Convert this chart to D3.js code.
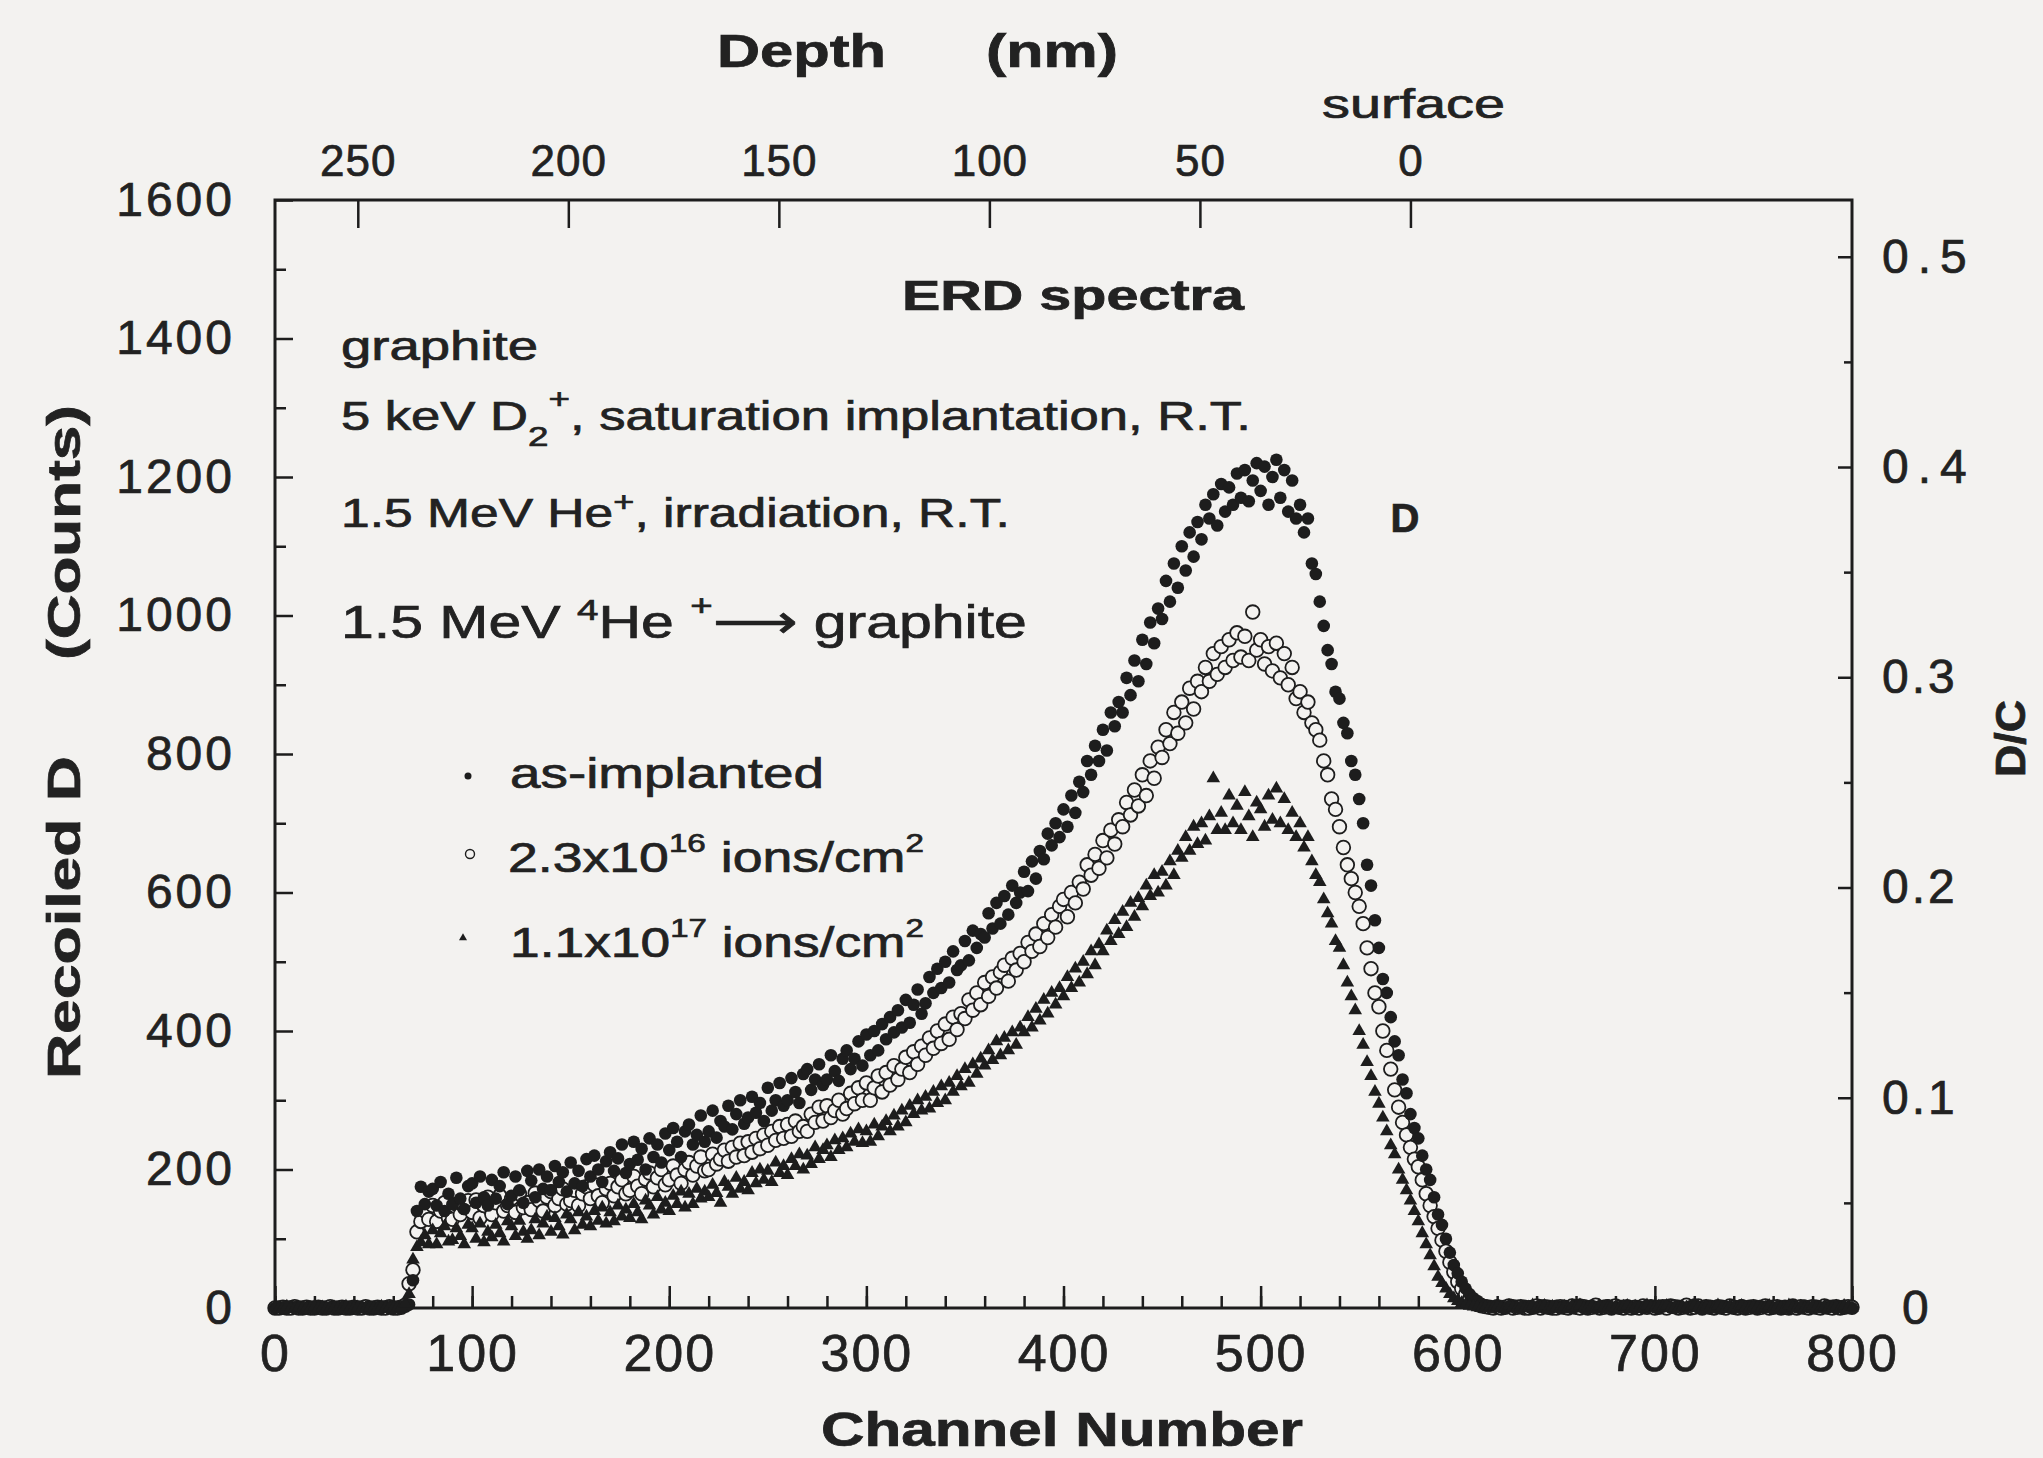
<!DOCTYPE html>
<html>
<head>
<meta charset="utf-8">
<script src="https://cdn.jsdelivr.net/npm/d3@7"></script>
<style>
  body { margin: 0; background: #f3f2f0; }
  svg text { font-family: "Liberation Sans", Arial, Helvetica, sans-serif; fill: #222; stroke: #222; stroke-width: 0.7px; }
</style>
</head>
<body>
<svg id="chart"></svg>
<script>
// counts, one value every 2 channels from channel 0 to 800
var channelStep = 2;

var asImplanted = [
  0,1,0,0,2,0,1,0,0,1,0,2,0,0,1,0,0,1,0,0,2,0,1,0,0,
  0,1,0,2,0,0,1,0,3,5,40,140,175,150,168,172,148,182,140,165,150,188,158,143,176,
  180,152,190,160,148,185,158,176,196,150,162,190,170,152,198,184,160,200,172,190,170,205,182,196,168,
  210,180,198,176,215,190,220,200,182,212,225,198,216,236,195,208,240,214,230,200,245,218,236,210,252,
  228,260,240,218,255,265,236,250,278,240,255,285,246,270,262,292,258,280,300,266,275,305,282,296,270,
  318,285,300,325,292,300,332,312,296,338,345,315,330,352,322,330,365,342,328,360,372,345,360,385,350,
  395,365,400,372,410,388,420,398,430,405,445,412,438,460,425,440,478,455,490,462,500,470,515,488,495,
  530,502,545,520,540,535,570,548,585,555,595,568,610,585,600,630,602,645,620,660,648,685,668,700,680,
  720,695,740,715,760,745,790,770,812,790,835,805,860,840,875,860,910,885,935,905,965,930,990,960,1010,
  995,1050,1020,1075,1040,1100,1065,1120,1085,1135,1110,1160,1140,1175,1130,1190,1150,1185,1160,1205,1170,1210,1165,1195,1220,
  1180,1215,1160,1200,1225,1170,1210,1150,1195,1140,1160,1120,1140,1075,1060,1020,985,950,930,890,880,845,830,790,770,
  735,700,640,610,560,520,475,455,420,385,365,330,310,280,260,245,220,200,185,160,135,120,100,80,62,
  50,38,28,20,14,10,6,4,2,1,3,1,0,2,4,1,0,3,2,0,1,4,2,0,1,
  3,0,2,1,0,2,5,1,0,3,0,2,1,4,0,1,0,3,2,1,0,2,0,1,3,
  1,0,2,4,1,0,3,1,0,2,5,1,0,2,0,1,3,0,2,1,0,1,4,0,2,
  1,0,2,1,3,0,1,0,2,0,4,1,0,3,1,0,2,1,0,1,3,0,2,0,1,
  0
];

var dose23e16 = [
  0,0,1,0,0,2,0,0,1,0,0,1,0,0,2,0,0,1,0,0,1,0,0,2,0,
  0,1,0,0,2,0,0,1,4,35,55,110,125,140,128,148,125,140,152,130,128,150,135,145,155,
  138,156,130,148,160,135,152,162,140,148,158,138,165,145,152,142,166,155,140,160,168,148,158,172,150,
  155,170,148,165,175,158,178,162,152,172,180,162,175,185,165,170,190,176,165,186,195,175,188,200,178,
  185,205,192,180,200,210,192,205,218,198,200,222,208,215,228,212,232,218,238,220,240,225,245,230,250,
  235,255,242,262,245,265,248,270,255,262,255,280,268,290,270,292,275,285,300,280,288,310,295,318,300,
  325,300,318,335,312,340,322,350,330,345,362,340,370,352,378,365,390,375,400,382,410,388,420,402,425,
  418,445,430,455,438,470,450,478,462,485,495,472,505,488,512,500,528,515,540,522,555,535,568,550,580,
  590,565,600,585,615,605,640,625,655,635,675,650,690,670,705,695,730,712,748,725,770,740,790,765,810,
  795,835,815,860,830,875,845,895,865,905,890,925,905,945,915,955,925,965,935,975,940,970,935,1005,950,
  965,930,955,920,960,910,945,900,925,880,890,860,875,845,835,820,790,770,735,720,695,665,640,620,600,
  580,555,520,490,455,435,400,372,345,315,290,268,250,232,215,204,185,165,148,132,115,98,82,66,52,
  38,28,20,13,8,5,3,2,1,0,2,0,1,3,0,1,2,0,0,1,3,0,2,1,0,
  0,2,1,0,3,1,0,2,0,1,4,0,1,2,0,3,1,0,2,0,1,0,3,1,2,
  0,1,2,0,3,2,0,1,4,0,1,3,0,2,1,0,2,1,0,3,1,0,2,0,1,
  2,0,1,3,0,1,2,0,1,0,3,0,2,1,0,2,1,0,3,1,0,2,0,1,2,
  1
];

var dose11e17 = [
  1,0,0,2,0,0,1,0,0,0,2,0,1,0,0,1,0,0,2,0,0,1,0,0,1,
  0,0,2,0,1,0,0,1,6,20,70,88,95,105,92,112,92,108,118,96,98,115,104,92,120,
  115,100,122,95,110,102,120,108,96,125,118,104,126,110,100,112,128,105,122,132,110,130,118,106,135,
  128,112,138,120,132,118,140,126,145,122,138,125,148,132,142,130,150,138,128,155,148,135,160,142,152,
  140,162,150,168,145,165,150,172,158,168,160,178,166,152,182,175,165,188,172,182,170,195,180,200,185,
  198,182,210,195,205,192,215,205,222,200,220,208,232,215,228,235,218,242,228,245,232,252,240,258,238,
  255,240,265,248,262,270,255,278,262,285,268,292,280,300,285,305,288,312,296,320,300,325,312,335,320,
  345,325,352,338,360,350,372,358,385,365,390,372,398,380,405,398,420,405,432,415,445,425,455,438,462,
  450,478,462,490,470,500,482,515,495,525,515,545,530,560,540,572,550,585,565,592,580,610,595,625,600,
  630,610,645,625,660,650,680,660,695,670,700,675,710,765,690,715,690,740,700,725,690,745,710,680,730,
  720,695,740,705,750,700,735,690,715,680,700,665,680,645,625,615,590,570,555,530,520,495,470,450,430,
  400,380,355,335,312,295,275,255,235,222,200,185,170,155,140,125,108,92,76,60,45,36,28,20,14,
  10,7,5,3,2,1,0,1,0,0,2,1,0,3,1,0,2,0,1,4,0,1,3,0,2,
  1,0,2,0,3,1,4,0,1,2,0,3,1,0,2,1,0,2,3,0,2,1,0,4,1,
  0,2,1,3,0,1,0,2,1,0,3,1,0,2,1,0,4,1,0,2,1,0,3,1,0,
  2,1,0,1,3,0,2,1,0,4,1,0,2,0,1,3,1,0,2,0,1,2,0,3,1,
  0
];

var channelTicks = [0, 100, 200, 300, 400, 500, 600, 700, 800];
var countTicks = [0, 200, 400, 600, 800, 1000, 1200, 1400, 1600];
var ratioTicks = [0, 0.1, 0.2, 0.3, 0.4, 0.5];
var depthTicks = [250, 200, 150, 100, 50, 0];
var surfaceChannel = 576;   // depth 0 nm
var deepChannel = 42;       // depth 250 nm

var W = 2043, H = 1458;
var margin = {top: 200, right: 191, bottom: 150, left: 275};
var ink = "#1d1d1d", paper = "#f3f2f0";

var svg = d3.select("#chart").attr("width", W).attr("height", H);
svg.append("rect").attr("width", W).attr("height", H).attr("fill", paper);

var x = d3.scaleLinear().domain([0, 800]).range([margin.left, W - margin.right]);
var y = d3.scaleLinear().domain([0, 1600]).range([H - margin.bottom, margin.top]);
var yRatio = d3.scaleLinear().domain([0, 0.527]).range([H - margin.bottom, margin.top]);
var depth = d3.scaleLinear().domain([0, 250]).range([x(surfaceChannel), x(deepChannel)]);

function styleAxis(g, size, spacing) {
  g.select(".domain").remove();
  g.attr("font-size", size).attr("font-family", null);
  g.selectAll("line").attr("stroke", ink).attr("stroke-width", 2.5);
  g.selectAll("text").style("letter-spacing", spacing + "px");
}

// bottom: channel number
svg.append("g").attr("transform", "translate(0," + y(0) + ")")
  .call(d3.axisBottom(x).tickValues(d3.range(0, 801, 20)).tickSize(-12).tickFormat(""))
  .call(styleAxis, 10, 0);
svg.append("g").attr("transform", "translate(0," + y(0) + ")")
  .call(d3.axisBottom(x).tickValues(channelTicks).tickSize(-22).tickPadding(26).tickFormat(d3.format("d")))
  .call(styleAxis, 52, 2);

// left: counts
svg.append("g").attr("transform", "translate(" + x(0) + ",0)")
  .call(d3.axisLeft(y).tickValues(d3.range(100, 1600, 200)).tickSize(-11).tickFormat(""))
  .call(styleAxis, 10, 0);
svg.append("g").attr("transform", "translate(" + x(0) + ",0)")
  .call(d3.axisLeft(y).tickValues(countTicks).tickSize(-18).tickPadding(40).tickFormat(d3.format("d")))
  .call(styleAxis, 48, 3);

// right: D/C
svg.append("g").attr("transform", "translate(" + x(800) + ",0)")
  .call(d3.axisRight(yRatio).tickValues([0.05, 0.15, 0.25, 0.35, 0.45]).tickSize(-8).tickFormat(""))
  .call(styleAxis, 10, 0);
svg.append("g").attr("transform", "translate(" + x(800) + ",0)")
  .call(d3.axisRight(yRatio).tickValues(ratioTicks).tickSize(-14).tickPadding(30)
    .tickFormat(function(d){ return d === 0 ? "0" : d3.format(".1f")(d); }))
  .call(styleAxis, 48, 3)
  .call(function(g){
    g.selectAll("text").style("letter-spacing", function(d){ return d >= 0.4 ? "9px" : "3px"; });
    g.selectAll("text").filter(function(d){ return d === 0; }).attr("x", 50);
  });

// top: depth
svg.append("g").attr("transform", "translate(0," + y(1600) + ")")
  .call(d3.axisTop(depth).tickValues(depthTicks).tickSize(-28).tickPadding(24).tickFormat(d3.format("d")))
  .call(styleAxis, 44, 1);

// frame
svg.append("rect")
  .attr("x", x(0)).attr("y", y(1600))
  .attr("width", x(800) - x(0)).attr("height", y(0) - y(1600))
  .attr("fill", "none").attr("stroke", ink).attr("stroke-width", 3);

function points(values) {
  return values.map(function(v, i){ return {ch: i * channelStep, v: v}; });
}

// data: open circles first so the solid markers make the dark baseline
svg.append("g").selectAll("circle")
  .data(points(dose23e16)).join("circle")
  .attr("cx", function(d){ return x(d.ch); })
  .attr("cy", function(d){ return y(d.v); })
  .attr("r", 6.8).attr("fill", paper).attr("stroke", ink).attr("stroke-width", 1.8);

svg.append("g").selectAll("circle")
  .data(points(asImplanted)).join("circle")
  .attr("cx", function(d){ return x(d.ch); })
  .attr("cy", function(d){ return y(d.v); })
  .attr("r", 6.3).attr("fill", ink);

svg.append("g").selectAll("path")
  .data(points(dose11e17)).join("path")
  .attr("d", d3.symbol(d3.symbolTriangle, 80))
  .attr("transform", function(d){ return "translate(" + x(d.ch) + "," + y(d.v) + ")"; })
  .attr("fill", ink);

// text helper: parts are tspans, width stretches the run to the scanned length
function addText(px, py, parts, opt) {
  var t = svg.append("text")
    .attr("font-size", opt.size)
    .attr("font-weight", opt.bold ? "bold" : "normal");
  parts.forEach(function(p){
    var s = t.append("tspan").text(p.t);
    if (p.dx) s.attr("dx", p.dx);
    if (p.dy) s.attr("dy", p.dy);
    if (p.fs) s.attr("font-size", p.fs);
  });
  var sx = opt.width ? opt.width / t.node().getComputedTextLength() : 1;
  var rot = opt.rotate ? " rotate(" + opt.rotate + ")" : "";
  t.attr("transform", "translate(" + px + "," + py + ")" + rot + " scale(" + sx + ",1)");
  return t;
}

// titles
addText(717, 67, [{t: "Depth"}], {size: 46, bold: true, width: 169});
addText(986, 67, [{t: "(nm)"}], {size: 46, bold: true, width: 132});
addText(1322, 118, [{t: "surface"}], {size: 40, width: 183});
addText(821, 1446, [{t: "Channel Number"}], {size: 48, bold: true, width: 482});
addText(80, 1079, [{t: "Recoiled D"}], {size: 46, bold: true, width: 323, rotate: -90});
addText(80, 660, [{t: "(Counts)"}], {size: 46, bold: true, width: 255, rotate: -90});
addText(2025, 777, [{t: "D/C"}], {size: 42, bold: true, width: 77, rotate: -90});

// annotations
addText(902, 310, [{t: "ERD spectra"}], {size: 42, bold: true, width: 342});
addText(341, 360, [{t: "graphite"}], {size: 40, width: 197});
addText(341, 430, [
  {t: "5 keV D"}, {t: "2", dy: 16, fs: 28}, {t: "+", dy: -38, fs: 28},
  {t: ", saturation implantation, R.T.", dy: 22}
], {size: 40, width: 910});
addText(341, 527, [
  {t: "1.5 MeV He"}, {t: "+", dy: -16, fs: 28}, {t: ", irradiation, R.T.", dy: 16}
], {size: 40, width: 669});
addText(341, 638, [
  {t: "1.5 MeV "}, {t: "4", dy: -18, fs: 30}, {t: "He ", dy: 18},
  {t: "+", dy: -22, fs: 30}, {t: "\u27f6", dy: 22}, {t: " graphite"}
], {size: 46, width: 686});
svg.append("text").attr("x", 1405).attr("y", 532).attr("text-anchor", "middle")
  .attr("font-size", 40).attr("font-weight", "bold").text("D");

// legend
svg.append("circle").attr("cx", 468).attr("cy", 776).attr("r", 3.5).attr("fill", ink);
svg.append("circle").attr("cx", 470).attr("cy", 854).attr("r", 4.5)
  .attr("fill", paper).attr("stroke", ink).attr("stroke-width", 1.4);
svg.append("path").attr("d", d3.symbol(d3.symbolTriangle, 28))
  .attr("transform", "translate(463,938)").attr("fill", ink);
addText(510, 788, [{t: "as-implanted"}], {size: 42, width: 314});
addText(508, 872, [
  {t: "2.3x10"}, {t: "16", dy: -20, fs: 26}, {t: " ions/cm", dy: 20}, {t: "2", dy: -20, fs: 26}
], {size: 42, width: 416});
addText(510, 957, [
  {t: "1.1x10"}, {t: "17", dy: -20, fs: 26}, {t: " ions/cm", dy: 20}, {t: "2", dy: -20, fs: 26}
], {size: 42, width: 414});
</script>
</body>
</html>
